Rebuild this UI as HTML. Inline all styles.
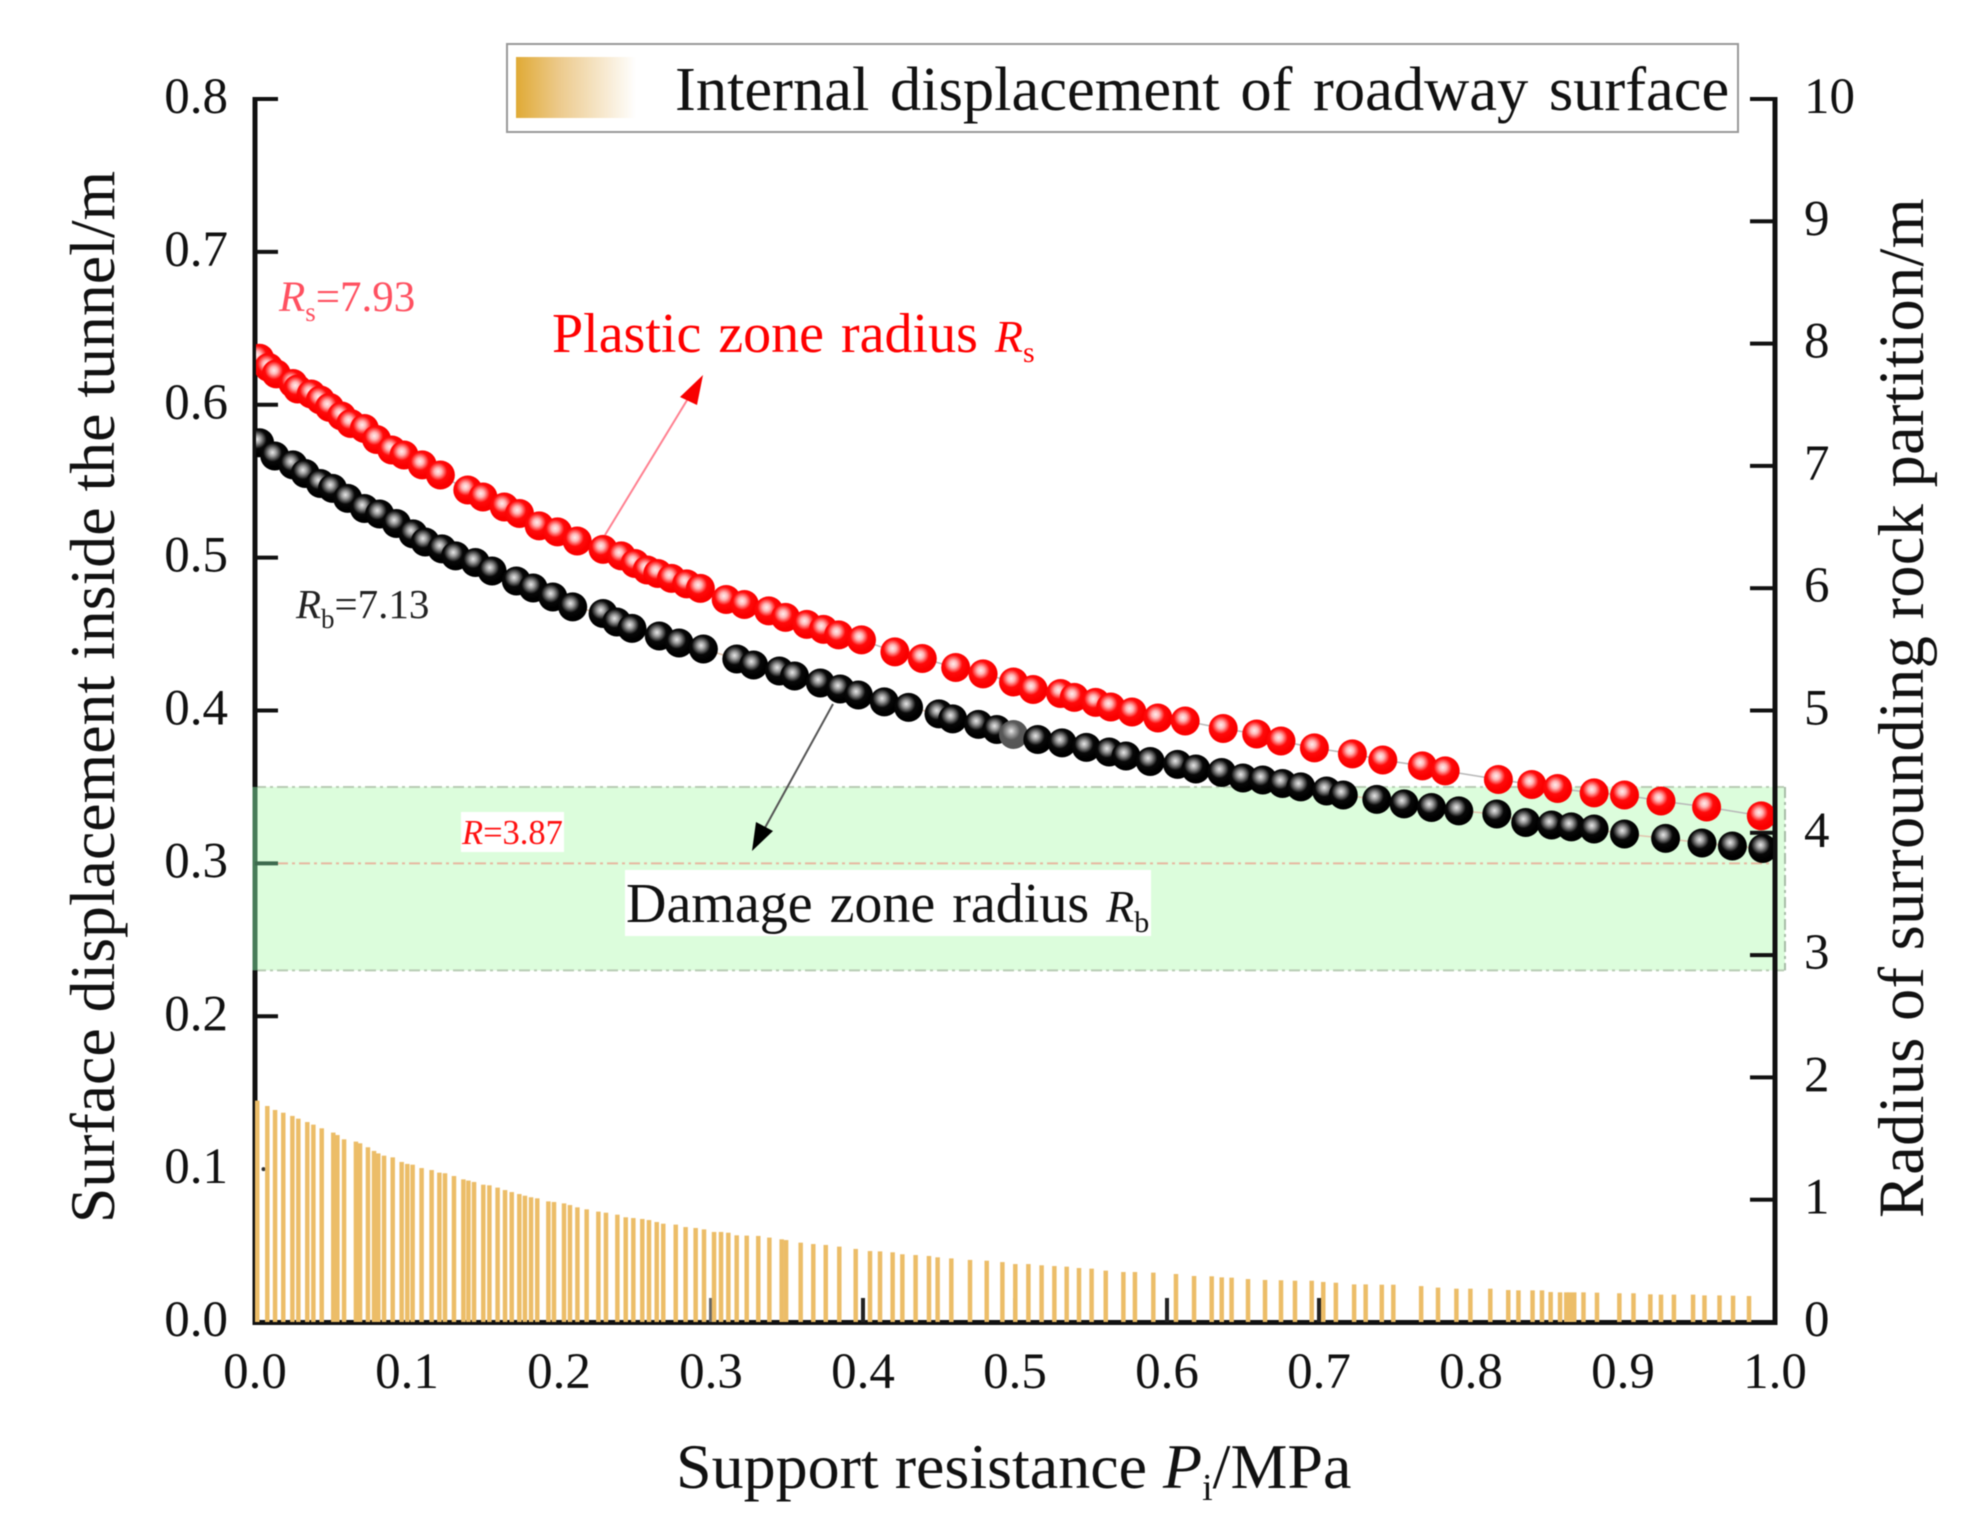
<!DOCTYPE html>
<html lang="en">
<head>
<meta charset="utf-8">
<title>Support resistance chart</title>
<style>
html,body{margin:0;padding:0;background:#fff;width:1983px;height:1530px;overflow:hidden}
svg{display:block;filter:blur(0.6px)}
text{font-family:"Liberation Serif","Times New Roman",serif;fill:#111}
</style>
</head>
<body>
<svg id="chart" xmlns="http://www.w3.org/2000/svg" width="1983" height="1530" viewBox="0 0 1983 1530">
  <defs>
    <linearGradient id="swatch-grad" x1="0" x2="1" y1="0" y2="0">
      <stop offset="0" stop-color="#e0aa35"/>
      <stop offset="0.35" stop-color="#ecc98a"/>
      <stop offset="1" stop-color="#ffffff"/>
    </linearGradient>
    <radialGradient id="ball-red" cx="0.42" cy="0.38" r="0.5">
      <stop offset="0" stop-color="#ffeeee"/>
      <stop offset="0.25" stop-color="#ffb8b8"/>
      <stop offset="0.62" stop-color="#ff0a0a"/>
      <stop offset="1" stop-color="#fa0000"/>
    </radialGradient>
    <radialGradient id="ball-black" cx="0.42" cy="0.38" r="0.5">
      <stop offset="0" stop-color="#e8e8e8"/>
      <stop offset="0.25" stop-color="#a0a0a0"/>
      <stop offset="0.64" stop-color="#080808"/>
      <stop offset="1" stop-color="#000000"/>
    </radialGradient>
    <radialGradient id="ball-grey" cx="0.42" cy="0.38" r="0.5">
      <stop offset="0" stop-color="#e8e8e8"/>
      <stop offset="0.25" stop-color="#a8a8a8"/>
      <stop offset="0.62" stop-color="#585858"/>
      <stop offset="1" stop-color="#555555"/>
    </radialGradient>
    <clipPath id="plot-clip"><rect x="256" y="60" width="1517" height="1300"/></clipPath>
  </defs>

  <rect width="1983" height="1530" fill="#ffffff"/>
  <g id="band-layer"></g>
  <g id="axes-layer"></g>
  <g id="bars-layer"></g>
  <g id="lines-layer" clip-path="url(#plot-clip)"></g>
  <g id="balls-layer" clip-path="url(#plot-clip)"></g>

  <g>
    <rect x="507" y="44" width="1231" height="88" fill="#ffffff" stroke="#999999" stroke-width="2"/>
    <rect x="516" y="57" width="120" height="61" fill="url(#swatch-grad)"/>
    <text x="675" y="110" font-size="62.5" word-spacing="5">Internal displacement of roadway surface</text>
  </g>

  <text x="676" y="1488" font-size="64">Support resistance <tspan font-style="italic">P</tspan><tspan font-size="38" dy="12">i</tspan><tspan dy="-12">/MPa</tspan></text>
  <text transform="translate(114,697) rotate(-90)" text-anchor="middle" font-size="63.8">Surface displacement inside the tunnel/m</text>
  <text transform="translate(1923,708) rotate(-90)" text-anchor="middle" font-size="64.4" letter-spacing="0.3">Radius of surrounding rock partition/m</text>

  <text x="279" y="311" font-size="43" style="fill:#ff5060"><tspan font-style="italic" style="fill:#ff5060">R</tspan><tspan font-size="27" dy="10" style="fill:#ff5060">s</tspan><tspan dy="-10" style="fill:#ff5060">=7.93</tspan></text>
  <text x="296" y="618" font-size="41" style="fill:#222"><tspan font-style="italic">R</tspan><tspan font-size="27" dy="10">b</tspan><tspan dy="-10">=7.13</tspan></text>

  <text x="552" y="352" font-size="56" word-spacing="3" style="fill:#ff0000"><tspan style="fill:#ff0000">Plastic zone radius </tspan><tspan font-style="italic" font-size="46" style="fill:#ff0000">R</tspan><tspan font-size="30" dy="10" style="fill:#ff0000">s</tspan></text>
  <line x1="605" y1="535" x2="692" y2="392" stroke="#ff8090" stroke-width="2"/>
  <polygon points="703,375 697,405 680,397" fill="#f80000"/>

  <line x1="833" y1="704" x2="761" y2="835" stroke="#555555" stroke-width="2"/>
  <polygon points="752,851 756,822 773,831" fill="#000000"/>

  <rect x="461" y="812" width="103" height="40" fill="#ffffff"/>
  <text x="462" y="844" font-size="34.5" style="fill:#ff1010"><tspan font-style="italic" style="fill:#ff1010">R</tspan><tspan style="fill:#ff1010">=3.87</tspan></text>

  <rect x="625" y="870" width="526" height="66" fill="#ffffff"/>
  <text x="626" y="922" font-size="56" word-spacing="3"><tspan>Damage zone radius </tspan><tspan font-style="italic" font-size="46">R</tspan><tspan font-size="30" dy="10">b</tspan></text>
</svg>

<script>
var xTickLabels = ["0.0","0.1","0.2","0.3","0.4","0.5","0.6","0.7","0.8","0.9","1.0"];
var xTickValues = [0,0.1,0.2,0.3,0.4,0.5,0.6,0.7,0.8,0.9,1.0];
var xTicksShown = [0.3,0.4,0.5,0.6,0.7];
var leftTickLabels = ["0.0","0.1","0.2","0.3","0.4","0.5","0.6","0.7","0.8"];
var leftTickValues = [0,0.1,0.2,0.3,0.4,0.5,0.6,0.7,0.8];
var rightTickLabels = ["0","1","2","3","4","5","6","7","8","9","10"];
var rightTickValues = [0,1,2,3,4,5,6,7,8,9,10];

var bandLow = 0.23;
var bandHigh = 0.35;
var referenceLine = 0.3;

var plasticPi = [.003,.009,.014,.025,.028,.037,.043,.049,.057,.063,.072,.080,.090,.098,.110,.122,.140,.150,.164,.174,.187,.199,.212,.229,.241,.250,.258,.265,.274,.284,.293,.310,.322,.338,.349,.363,.374,.384,.399,.421,.439,.461,.479,.499,.512,.530,.539,.553,.563,.577,.594,.612,.637,.659,.675,.697,.722,.742,.768,.783,.818,.840,.857,.881,.901,.925,.955,.991];
var plasticRadius = [7.88,7.805,7.752,7.674,7.629,7.588,7.539,7.478,7.408,7.347,7.306,7.216,7.130,7.089,7.008,6.926,6.803,6.746,6.664,6.611,6.509,6.460,6.386,6.317,6.264,6.202,6.149,6.120,6.080,6.035,5.998,5.908,5.867,5.814,5.761,5.704,5.663,5.618,5.577,5.479,5.425,5.352,5.299,5.233,5.172,5.139,5.107,5.066,5.029,4.988,4.939,4.914,4.853,4.808,4.751,4.694,4.645,4.595,4.547,4.506,4.436,4.395,4.362,4.326,4.309,4.260,4.211,4.138];

var damagePi = [.003,.013,.025,.033,.043,.051,.061,.072,.082,.093,.104,.112,.123,.132,.145,.156,.172,.183,.196,.209,.229,.238,.248,.266,.279,.295,.317,.328,.345,.355,.372,.385,.397,.414,.430,.450,.459,.476,.488,.499,.515,.531,.547,.562,.573,.589,.607,.619,.636,.650,.663,.676,.688,.705,.716,.738,.756,.774,.792,.817,.836,.853,.866,.881,.901,.928,.952,.972,.992];
var damageRadius = [7.189,7.081,7.008,6.938,6.856,6.816,6.734,6.652,6.607,6.529,6.444,6.378,6.321,6.264,6.210,6.141,6.059,6.002,5.928,5.847,5.793,5.724,5.671,5.609,5.552,5.503,5.421,5.372,5.323,5.282,5.225,5.176,5.127,5.070,5.025,4.972,4.931,4.886,4.845,4.804,4.763,4.735,4.698,4.661,4.628,4.583,4.559,4.522,4.493,4.448,4.432,4.403,4.375,4.342,4.309,4.273,4.236,4.207,4.179,4.154,4.084,4.064,4.048,4.031,3.990,3.954,3.917,3.892,3.872];
var greyMarkerIndex = 39;

var barPi = [0,.0081,.0132,.0186,.0246,.0285,.0344,.0384,.0439,.0515,.0542,.0586,.0664,.0691,.0743,.0783,.0811,.0849,.0906,.0965,.1002,.1037,.1096,.1162,.1213,.1250,.1309,.1371,.1404,.1441,.1502,.1542,.1596,.1645,.1689,.1739,.1776,.1816,.1857,.1930,.1967,.2033,.2072,.2121,.2182,.2259,.2309,.2384,.2439,.2489,.2548,.2592,.2643,.2686,.2768,.2833,.2899,.2954,.3020,.3066,.3114,.3169,.3235,.3311,.3384,.3465,.3494,.3590,.3673,.3755,.3844,.3952,.4046,.4112,.4195,.4259,.4346,.4434,.4491,.4581,.4704,.4814,.4917,.5002,.5088,.5175,.5259,.5340,.5421,.5504,.5597,.5713,.5789,.5910,.6059,.6178,.6294,.6360,.6425,.6533,.6645,.6750,.6842,.6952,.7028,.7111,.7231,.7307,.7413,.7489,.7672,.7783,.7904,.7996,.8127,.8245,.8312,.8405,.8467,.8524,.8586,.8627,.8650,.8679,.8740,.8829,.8976,.9069,.9180,.9250,.9335,.9461,.9536,.9635,.9724,.9829];
var barDisplacement = [.1448,.1413,.1387,.1369,.1348,.1330,.1308,.1291,.1267,.1239,.1223,.1195,.1180,.1169,.1143,.1119,.1103,.1088,.1077,.1047,.1034,.1029,.1007,.0994,.0977,.0973,.0955,.0933,.0925,.0916,.0898,.0894,.0879,.0863,.0850,.0837,.0826,.0816,.0809,.0789,.0785,.0776,.0765,.0750,.0737,.0722,.0715,.0702,.0685,.0680,.0674,.0667,.0654,.0643,.0637,.0621,.0615,.0606,.0589,.0589,.0584,.0567,.0565,.0563,.0552,.0541,.0536,.0519,.0510,.0504,.0493,.0478,.0464,.0462,.0456,.0443,.0438,.0432,.0423,.0416,.0406,.0401,.0392,.0379,.0379,.0371,.0366,.0362,.0353,.0349,.0336,.0327,.0327,.0323,.0314,.0301,.0299,.0292,.0290,.0281,.0275,.0273,.0270,.0270,.0262,.0257,.0246,.0246,.0244,.0244,.0235,.0225,.0218,.0218,.0218,.0209,.0207,.0207,.0207,.0196,.0194,.0194,.0194,.0194,.0194,.0192,.0188,.0188,.0181,.0179,.0179,.0179,.0174,.0174,.0172,.0170];

var NS = "http://www.w3.org/2000/svg";
function xScale(p){ return 255 + p * 1520; }
function yLeft(v){ return 1322 - v * 1528.75; }
function yRight(r){ return 1322 - r * 122.3; }

function make(tag, parent){
  var el = document.createElementNS(NS, tag);
  parent.appendChild(el);
  return el;
}
function rect(parent, x, y, w, h, fill){
  var el = make("rect", parent);
  el.setAttribute("x", x);
  el.setAttribute("y", y);
  el.setAttribute("width", w);
  el.setAttribute("height", h);
  el.setAttribute("fill", fill);
  return el;
}
function label(parent, x, y, anchor, str){
  var el = make("text", parent);
  el.setAttribute("x", x);
  el.setAttribute("y", y);
  el.setAttribute("text-anchor", anchor);
  el.setAttribute("font-size", "51");
  el.textContent = str;
  return el;
}
function dashLine(parent, x1, y1, x2, y2, color){
  var el = make("line", parent);
  el.setAttribute("x1", x1);
  el.setAttribute("y1", y1);
  el.setAttribute("x2", x2);
  el.setAttribute("y2", y2);
  el.setAttribute("stroke", color);
  el.setAttribute("stroke-width", "2");
  el.setAttribute("stroke-dasharray", "11 4 3 4");
  return el;
}

var bandLayer = document.getElementById("band-layer");
var axesLayer = document.getElementById("axes-layer");
var barsLayer = document.getElementById("bars-layer");
var linesLayer = document.getElementById("lines-layer");
var ballsLayer = document.getElementById("balls-layer");

/* reference band */
var band = rect(bandLayer, 255, yLeft(bandHigh), 1530, yLeft(bandLow) - yLeft(bandHigh), "#dcfddc");


var bandTop = dashLine(bandLayer, 255, yLeft(bandHigh), 1785, yLeft(bandHigh), "#b8ccb4");


var bandBottom = dashLine(bandLayer, 255, yLeft(bandLow), 1785, yLeft(bandLow), "#b8ccb4");


var bandRight = dashLine(bandLayer, 1785, yLeft(bandHigh), 1785, yLeft(bandLow), "#a8bca8");


var refLine = dashLine(bandLayer, 255, yLeft(referenceLine), 1775, yLeft(referenceLine), "#e6b8a0");



/* axes */
var axisLeft = rect(axesLayer, 252.5, 97, 5, 1228, "#111111");


var axisLeftTint = rect(axesLayer, 252.5, yLeft(bandHigh), 5, yLeft(bandLow) - yLeft(bandHigh), "#487c58");


var axisRight = rect(axesLayer, 1772.5, 97, 5, 1228, "#111111");


var axisBottom = rect(axesLayer, 252.5, 1320, 1525, 5, "#111111");



leftTickValues.forEach(function(v, i){
  var py = yLeft(v);
  if (v >= 0.15) {
    var t = rect(axesLayer, 255, py - 2, 23, 4, v === referenceLine ? "#3d6a4e" : "#111111");
    
    
  }
  var l = label(axesLayer, 228, py + 14, "end", leftTickLabels[i]);
  
  
});
rightTickValues.forEach(function(v, i){
  var py = yRight(v);
  var t = rect(axesLayer, 1750, py - 2, 25, 4, "#111111");
  
  
  var l = label(axesLayer, 1804, py + 14, "start", rightTickLabels[i]);
  
  
});
xTickValues.forEach(function(v, i){
  var px = xScale(v);
  if (xTicksShown.indexOf(v) >= 0) {
    var dark = v === 0.4 || v === 0.6 || v === 0.7;
    var t = rect(axesLayer, px - 2, 1298, 4, 24, dark ? "#222222" : "#666666");
    
    
  }
  var l = label(axesLayer, px, 1388, "middle", xTickLabels[i]);
  
  
});

/* bars */
barPi.forEach(function(p, i){
  var top = yLeft(barDisplacement[i]);
  var b = rect(barsLayer, xScale(p) - (i === 0 ? 0 : 2.25), top, 4.5, 1322 - top, "#ecbd68");
  
  
});
var tickDot = make("circle", axesLayer);
tickDot.setAttribute("cx", 263.5);
tickDot.setAttribute("cy", yLeft(0.1));
tickDot.setAttribute("r", 2);
tickDot.setAttribute("fill", "#333333");



/* series */
function drawSeries(xs, ys, lineColor, gradient, name, greyIndex){
  var line = make("polyline", linesLayer);
  var pts = xs.map(function(p, i){ return xScale(p).toFixed(1) + "," + yRight(ys[i]).toFixed(1); });
  line.setAttribute("points", pts.join(" "));
  line.setAttribute("fill", "none");
  line.setAttribute("stroke", lineColor);
  line.setAttribute("stroke-width", "1.5");
  
  
  xs.forEach(function(p, i){
    var c = make("circle", ballsLayer);
    c.setAttribute("cx", xScale(p).toFixed(1));
    c.setAttribute("cy", yRight(ys[i]).toFixed(1));
    c.setAttribute("r", "14.5");
    c.setAttribute("fill", "url(#" + (i === greyIndex ? "ball-grey" : gradient) + ")");
    
    
  });
}
drawSeries(damagePi, damageRadius, "#e2c4ae", "ball-black", "damage-zone-radius", greyMarkerIndex);
drawSeries(plasticPi, plasticRadius, "#b8b8b8", "ball-red", "plastic-zone-radius", -1);
</script>
</body>
</html>
